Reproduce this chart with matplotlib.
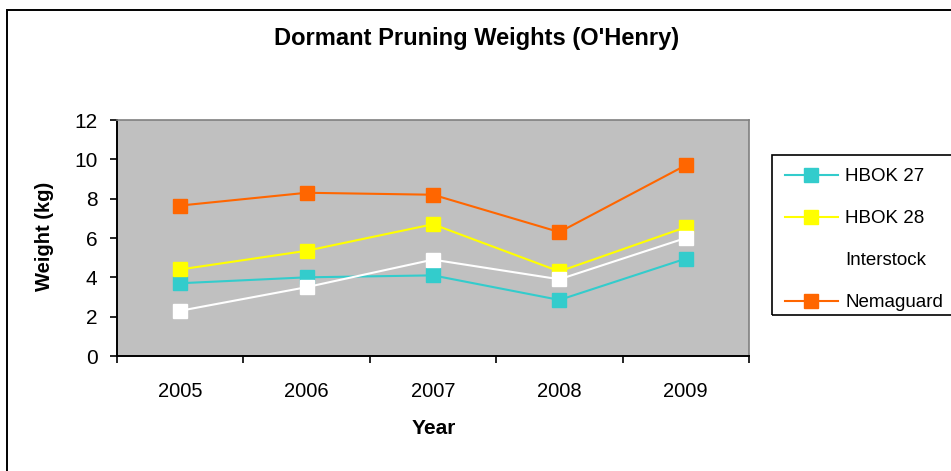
import matplotlib.pyplot as plt
from matplotlib.patches import Rectangle

plt.rcParams['font.family'] = ['Liberation Sans', 'DejaVu Sans']

years = ['2005', '2006', '2007', '2008', '2009']
hbok27 = [3.7, 4.0, 4.1, 2.85, 4.95]
hbok28 = [4.4, 5.35, 6.7, 4.3, 6.55]
interstock = [2.3, 3.5, 4.9, 3.9, 6.0]
nemaguard = [7.65, 8.3, 8.2, 6.3, 9.7]

series = [
    ('HBOK 27', hbok27, '#33CCCC'),
    ('HBOK 28', hbok28, '#FFFF00'),
    ('Interstock', interstock, '#FFFFFF'),
    ('Nemaguard', nemaguard, '#FF6600'),
]

W, H = 951, 471
fig = plt.figure(figsize=(W / 100, H / 100), dpi=100)

# plot area in pixels: x 117..749, y 120..356
ax = fig.add_axes([117 / W, 1 - 356 / H, (749 - 117) / W, (356 - 120) / H])
ax.set_facecolor('#C0C0C0')

xs = range(len(years))
for name, vals, col in series:
    ax.plot(xs, vals, color=col, lw=1.5, marker='s', markersize=10,
            markerfacecolor=col, markeredgecolor=col, label=name)

ax.set_xlim(-0.5, len(years) - 0.5)
ax.set_ylim(0, 12)
ax.set_yticks(range(0, 13, 2))
ax.set_xticks(list(xs))
ax.set_xticklabels(years)
ax.set_xticks([i - 0.5 for i in range(len(years) + 1)], minor=True)
ax.tick_params(axis='x', which='major', length=0, pad=19, labelsize=14.5)
ax.tick_params(axis='x', which='minor', length=5, width=1.2, direction='out')
ax.tick_params(axis='y', length=5, width=1.2, direction='out', pad=9, labelsize=15)

for s in ['left', 'bottom']:
    ax.spines[s].set_color('black')
    ax.spines[s].set_linewidth(1.4)
for s in ['top', 'right']:
    ax.spines[s].set_color('#808080')
    ax.spines[s].set_linewidth(1.2)

fig.text(477 / W, 1 - 39 / H, "Dormant Pruning Weights (O'Henry)",
         ha='center', va='center', fontsize=17, fontweight='bold')
fig.text(434 / W, 1 - 428 / H, 'Year', ha='center', va='center',
         fontsize=15, fontweight='bold')
fig.text(45 / W, 1 - 236 / H, 'Weight (kg)', ha='center', va='center',
         rotation=90, fontsize=14.5, fontweight='bold')

leg = fig.legend(loc='upper left', bbox_to_anchor=(772 / W, 1 - 155 / H),
                 fontsize=13.5, frameon=False, handlelength=2.8,
                 handletextpad=0.4, labelspacing=1.33, borderpad=0.7,
                 borderaxespad=0)

# legend box drawn by hand, it runs off the right edge like the original
fig.add_artist(Rectangle((772 / W, 1 - 315 / H), 0.3, 160 / H, transform=fig.transFigure,
                         fill=False, edgecolor='black', linewidth=1.2))

# outer chart border (only left and top edges are inside the picture)
fig.add_artist(Rectangle((7 / W, -0.1), 1.2, 1.1 - 10 / H, transform=fig.transFigure,
                         fill=False, edgecolor='black', linewidth=1.4))

fig.savefig('out.png', dpi=100)
